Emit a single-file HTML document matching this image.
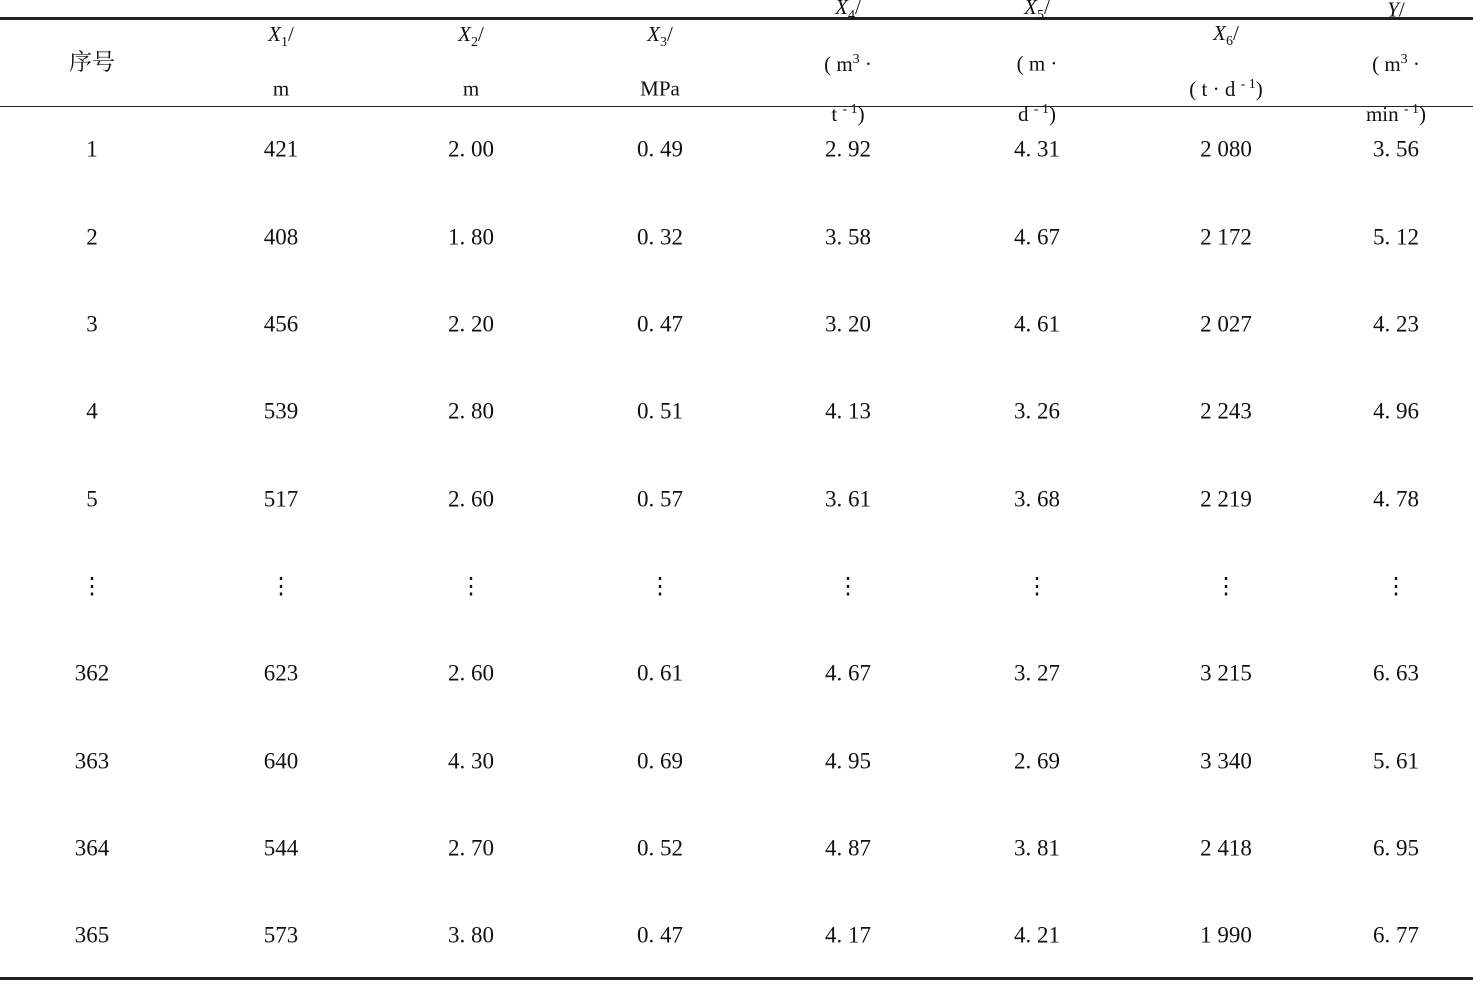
<!DOCTYPE html>
<html><head><meta charset="utf-8"><style>
body{margin:0;width:1473px;height:981px;background:#fff;position:relative;overflow:hidden;font-family:"Liberation Serif","Noto Serif CJK SC",serif;color:#111;font-size:23px}
.t{position:absolute;transform:translate(-50%,-50%);white-space:nowrap;line-height:1}
.h{font-size:21px}
i{font-style:italic}
sub{font-size:14px;vertical-align:-5px}
sup{font-size:14px;vertical-align:8px}
.l{position:absolute;left:0;width:1473px;background:#222}
</style></head><body>
<div class="l" style="top:17px;height:3px"></div>
<div class="l" style="top:106px;height:1px"></div>
<div class="l" style="top:977px;height:3px"></div>
<div id="c"></div>
<script>
var xs=[92,281,471,660,848,1037,1226,1396];
var H=[
[92,61,'<span style="font-family:\'Noto Serif CJK SC\',serif;font-size:23px">序号</span>'],
[281,37,'<i>X</i><sub>1</sub>/'],[281,89,'m'],
[471,37,'<i>X</i><sub>2</sub>/'],[471,89,'m'],
[660,37,'<i>X</i><sub>3</sub>/'],[660,89,'MPa'],
[848,10,'<i>X</i><sub>4</sub>/'],[848,64,'( m<sup>3</sup> ·'],[848,114,'t <sup>- 1</sup>)'],
[1037,10,'<i>X</i><sub>5</sub>/'],[1037,64,'( m ·'],[1037,114,'d <sup>- 1</sup>)'],
[1226,36,'<i>X</i><sub>6</sub>/'],[1226,89,'( t · d <sup>- 1</sup>)'],
[1396,10,'<i>Y</i>/'],[1396,64,'( m<sup>3</sup> ·'],[1396,114,'min <sup>- 1</sup>)']
];
var rows=[
['1','421','2. 00','0. 49','2. 92','4. 31','2 080','3. 56'],
['2','408','1. 80','0. 32','3. 58','4. 67','2 172','5. 12'],
['3','456','2. 20','0. 47','3. 20','4. 61','2 027','4. 23'],
['4','539','2. 80','0. 51','4. 13','3. 26','2 243','4. 96'],
['5','517','2. 60','0. 57','3. 61','3. 68','2 219','4. 78'],
['⋮','⋮','⋮','⋮','⋮','⋮','⋮','⋮'],
['362','623','2. 60','0. 61','4. 67','3. 27','3 215','6. 63'],
['363','640','4. 30','0. 69','4. 95','2. 69','3 340','5. 61'],
['364','544','2. 70','0. 52','4. 87','3. 81','2 418','6. 95'],
['365','573','3. 80','0. 47','4. 17','4. 21','1 990','6. 77']];
var ys=[149,237,324,411,499,586,673,761,848,935];
var s='';
H.forEach(function(h){s+='<div class="t h" style="left:'+h[0]+'px;top:'+h[1]+'px">'+h[2]+'</div>';});
rows.forEach(function(r,i){r.forEach(function(v,j){s+='<div class="t" style="left:'+xs[j]+'px;top:'+ys[i]+'px">'+v+'</div>';});});
document.getElementById('c').innerHTML=s;
</script>
</body></html>
